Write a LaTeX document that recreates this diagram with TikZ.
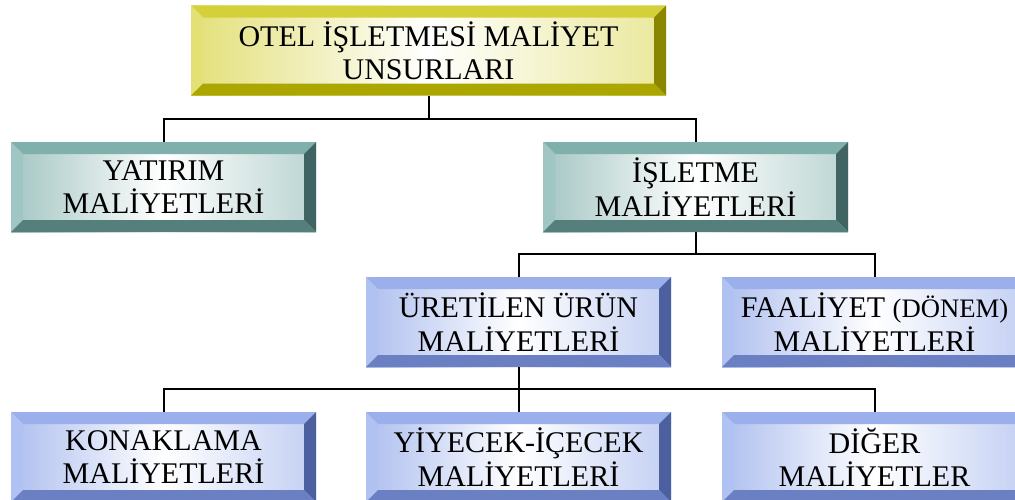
\documentclass[tikz,border=0pt]{standalone}
\usepackage{fontspec}
\setmainfont{Liberation Serif}
% box colours: face, top, left, right, bottom bevel
\definecolor{oliveface}{HTML}{DCD858}
\definecolor{olivetop}{HTML}{D4D03A}
\definecolor{oliveleft}{HTML}{E3E176}
\definecolor{oliveright}{HTML}{8A8600}
\definecolor{olivebot}{HTML}{ABA600}
\definecolor{tealface}{HTML}{8DB8B4}
\definecolor{tealtop}{HTML}{80B0AB}
\definecolor{tealleft}{HTML}{9FC6C2}
\definecolor{tealright}{HTML}{3F6462}
\definecolor{tealbot}{HTML}{547F7B}
\definecolor{blueface}{HTML}{9AAFEB}
\definecolor{bluetop}{HTML}{9AAFEB}
\definecolor{blueleft}{HTML}{B0C2F2}
\definecolor{blueright}{HTML}{4C60A0}
\definecolor{bluebot}{HTML}{6A80C2}
\tikzset{
  bevelbox/.style n args={5}{rectangle, inner sep=0pt,
    minimum width=228.75pt, minimum height=67.5pt,
    align=center, font=\fontsize{22.5}{25}\selectfont,
    left color=#1!80!white, right color=#1!60!white, middle color=white,
    path picture={
      \def\pb{path picture bounding box}
      \fill[#2] (\pb.north west) -- (\pb.north east) -- ([xshift=-9pt,yshift=-9pt]\pb.north east) -- ([xshift=9pt,yshift=-9pt]\pb.north west) -- cycle;
      \fill[#3] (\pb.north west) -- (\pb.south west) -- ([xshift=9pt,yshift=9pt]\pb.south west) -- ([xshift=9pt,yshift=-9pt]\pb.north west) -- cycle;
      \fill[#4] (\pb.north east) -- (\pb.south east) -- ([xshift=-9pt,yshift=9pt]\pb.south east) -- ([xshift=-9pt,yshift=-9pt]\pb.north east) -- cycle;
      \fill[#5] (\pb.south west) -- (\pb.south east) -- ([xshift=-9pt,yshift=9pt]\pb.south east) -- ([xshift=9pt,yshift=9pt]\pb.south west) -- cycle;
    }},
  olivebox/.style={bevelbox={oliveface}{olivetop}{oliveleft}{oliveright}{olivebot}},
  tealbox/.style={bevelbox={tealface}{tealtop}{tealleft}{tealright}{tealbot}},
  bluebox/.style={bevelbox={blueface}{bluetop}{blueleft}{blueright}{bluebot}},
  link/.style={draw=black, line width=1.5pt}
}
\begin{document}
\begin{tikzpicture}[x=0.75pt,y=-0.75pt]
  \clip (0,0) rectangle (1015,500);
  \useasboundingbox (0,0) rectangle (1015,500);
  % top
  \node[olivebox, minimum width=356.25pt] (otel) at (428.5,50.5) {OTEL İŞLETMESİ MALİYET\\UNSURLARI};
  % second row
  \node[tealbox] (yatirim) at (163.5,187) {YATIRIM\\MALİYETLERİ};
  \node[tealbox] (isletme) at (695.5,187) {İŞLETME\\MALİYETLERİ};
  % third row
  \node[bluebox] (uretilen) at (518.5,322) {ÜRETİLEN ÜRÜN\\MALİYETLERİ};
  \node[bluebox] (faaliyet) at (874.5,322) {FAALİYET {\fontsize{20}{25}\selectfont(DÖNEM)}\\MALİYETLERİ};
  % bottom row
  \node[bluebox] (konaklama) at (163.5,457) {KONAKLAMA\\MALİYETLERİ};
  \node[bluebox] (yiyecek) at (518.5,457) {YİYECEK-İÇECEK\\MALİYETLERİ};
  \node[bluebox] (diger) at (874.5,457) {DİĞER\\MALİYETLER};
  % connectors
  \draw[link] (otel.south) -- ++(0,23.5) -| (yatirim.north);
  \draw[link] (otel.south) -- ++(0,23.5) -| (isletme.north);
  \draw[link] (isletme.south) -- ++(0,22) -| (uretilen.north);
  \draw[link] (isletme.south) -- ++(0,22) -| (faaliyet.north);
  \draw[link] (uretilen.south) -- ++(0,22) -| (konaklama.north);
  \draw[link] (uretilen.south) -- (yiyecek.north);
  \draw[link] (uretilen.south) -- ++(0,22) -| (diger.north);
\end{tikzpicture}
\end{document}
